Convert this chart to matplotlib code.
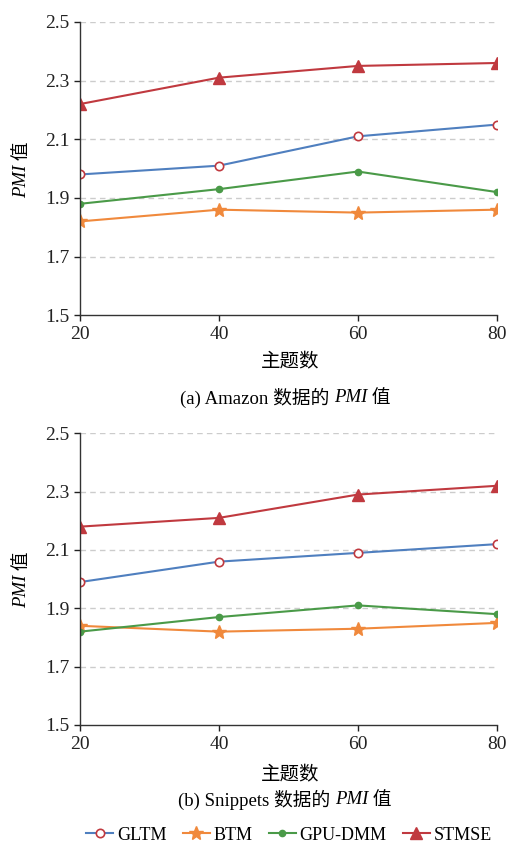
import matplotlib
matplotlib.use('Agg')
import matplotlib.pyplot as plt
from matplotlib.lines import Line2D

plt.rcParams['font.family'] = ['Liberation Serif', 'Noto Sans CJK SC']

# topic counts
topics = [20, 40, 60, 80]
yticks = [1.5, 1.7, 1.9, 2.1, 2.3, 2.5]

# Amazon
amazon_gltm = [1.98, 2.01, 2.11, 2.15]
amazon_btm = [1.82, 1.86, 1.85, 1.86]
amazon_gpu = [1.88, 1.93, 1.99, 1.92]
amazon_stmse = [2.22, 2.31, 2.35, 2.36]

# Snippets
snip_gltm = [1.99, 2.06, 2.09, 2.12]
snip_btm = [1.84, 1.82, 1.83, 1.85]
snip_gpu = [1.82, 1.87, 1.91, 1.88]
snip_stmse = [2.18, 2.21, 2.29, 2.32]

names = ['GLTM', 'BTM', 'GPU-DMM', 'STMSE']
captions = [[('(a) Amazon 数据的 ', 'normal'), ('PMI', 'italic'), (' 值', 'normal')],
            [('(b) Snippets 数据的 ', 'normal'), ('PMI', 'italic'), (' 值', 'normal')]]
ylabel = [('PMI', 'italic'), (' 值', 'normal')]

blue = '#4f7fbf'
orange = '#f0893c'
green = '#4a9a48'
red = '#c0393f'

styles = [
    dict(color=blue, marker='o', markersize=6, markerfacecolor='white',
         markeredgecolor=red, markeredgewidth=1.2),
    dict(color=orange, marker='*', markersize=10, markerfacecolor=orange,
         markeredgecolor=orange),
    dict(color=green, marker='o', markersize=4.5, markerfacecolor=green,
         markeredgecolor=green),
    dict(color=red, marker='^', markersize=9, markerfacecolor=red,
         markeredgecolor=red),
]


def place_pieces(fig, pieces, x, y, size, rotation=0):
    # lay out text runs one after another, centred on (x, y) in pixels
    r = fig.canvas.get_renderer()
    texts = []
    for s, style in pieces:
        t = fig.text(0, 0, s, fontsize=size, style=style, rotation=rotation,
                     ha='left', va='center', transform=None)
        texts.append(t)
    widths = []
    for t in texts:
        bb = t.get_window_extent(r)
        widths.append(bb.height if rotation else bb.width)
    total = sum(widths)
    pos = -total / 2
    for t, w in zip(texts, widths):
        if rotation:
            t.set_ha('center')
            t.set_va('bottom')
            t.set_position((x, y + pos))
        else:
            t.set_position((x + pos, y))
        pos += w


W, H = 508, 843
fig = plt.figure(figsize=(W / 100, H / 100), dpi=100)
ax1 = fig.add_axes([0.1575, 0.626, 0.8205, 0.348])
ax2 = fig.add_axes([0.1575, 0.140, 0.8205, 0.346])

datasets = [
    [amazon_gltm, amazon_btm, amazon_gpu, amazon_stmse],
    [snip_gltm, snip_btm, snip_gpu, snip_stmse],
]

for ax, series in zip([ax1, ax2], datasets):
    for vals, st in zip(series, styles):
        ax.plot(topics, vals, linewidth=1.5, **st)
    ax.set_xlim(20, 80)
    ax.set_ylim(1.5, 2.5)
    ax.set_xticks(topics)
    ax.set_yticks(yticks)
    ax.set_yticklabels(['%.1f' % v for v in yticks])
    for v in yticks[1:]:
        ax.axhline(v, color='#cccccc', linestyle=(0, (4, 3)), linewidth=1, zorder=0)
    for s in ['top', 'right']:
        ax.spines[s].set_visible(False)
    for s in ['left', 'bottom']:
        ax.spines[s].set_color('#333333')
        ax.spines[s].set_linewidth(1)
    ax.tick_params(axis='both', labelsize=14, colors='#222222', length=4, width=1)
    ax.tick_params(axis='x', pad=4)

# labels placed in pixel coords (origin bottom-left)
fig.text(290 / W, 1 - 362 / H, '主题数', fontsize=14, ha='center', va='center')
fig.text(290 / W, 1 - 775 / H, '主题数', fontsize=14, ha='center', va='center')
place_pieces(fig, ylabel, 22, H - 170, 13.5, rotation=90)
place_pieces(fig, ylabel, 22, H - 580, 13.5, rotation=90)
place_pieces(fig, captions[0], 285, H - 398, 13.5)
place_pieces(fig, captions[1], 285, H - 800, 13.5)

handles = [Line2D([], [], linewidth=1.5, **st) for st in styles]
fig.legend(handles, names, loc='center', bbox_to_anchor=(289 / W, 1 - 835 / H), ncol=4,
           frameon=False, fontsize=13, handlelength=1.5, handletextpad=0.2,
           columnspacing=0.9, borderaxespad=0, borderpad=0)

fig.savefig('out.png', dpi=100)
